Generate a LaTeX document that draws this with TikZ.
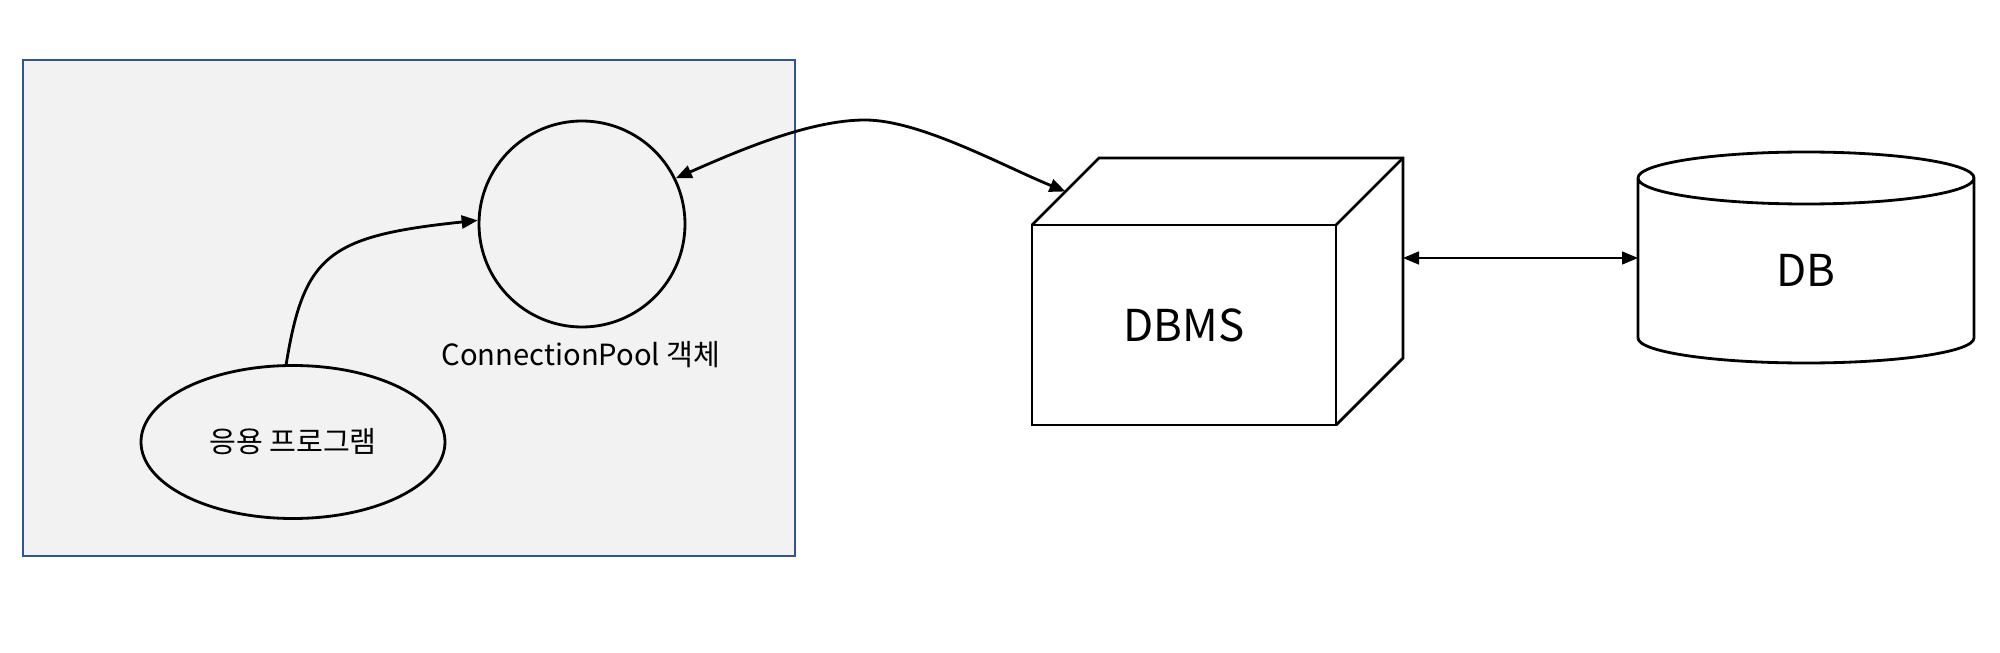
\documentclass[tikz,border=0pt]{standalone}
\usepackage{fontspec}
\setmainfont{Noto Sans CJK KR}
\usetikzlibrary{arrows.meta,shapes.geometric}
\definecolor{boxfill}{HTML}{F2F2F2}
\definecolor{boxline}{HTML}{2F5597}
\tikzset{
  tip/.tip={Triangle[length=0.16cm,width=0.13cm]},
  smalltext/.style={font=\fontsize{8.3}{10}\selectfont},
  bigtext/.style={font=\fontsize{12.5}{15}\selectfont},
}
\begin{document}
\begin{tikzpicture}[line width=0.8pt, every node/.style={inner sep=0pt}]
      \useasboundingbox (0,0) rectangle (20,6.52);
      \node[draw=boxline, fill=boxfill, line width=0.6pt,
        minimum width=7.72cm, minimum height=4.96cm] (box) at (4.09,3.44) {};
      \node[circle, draw, minimum size=2.06cm] (pool) at (5.82,4.28) {};
      \node[smalltext, anchor=base] (poollabel) at (5.81,2.87) {ConnectionPool 객체};
      \node[ellipse, draw, smalltext, minimum width=3.04cm,
        minimum height=1.53cm] (app) at (2.93,2.10) {응용 프로그램};
      \node[draw, bigtext, outer sep=0pt, minimum width=3.04cm,
        minimum height=2.00cm] (dbms) at (11.84,3.27) {DBMS};
      \draw (dbms.north west) -- coordinate[midway] (slant) ++(0.67,0.67)
        -- ++(3.04,0) coordinate (backne)
        -- coordinate[midway] (side) ++(0,-2.00) -- (dbms.south east);
      \draw (dbms.north east) -- (backne);
      \node[outer sep=0pt, minimum width=3.36cm, minimum height=1.60cm] (db) at (18.06,3.94) {};
      \draw (db.north west) -- (db.south west)
        arc[start angle=180, end angle=360, x radius=1.68cm, y radius=0.25cm]
        -- (db.north east)
        arc[start angle=0, end angle=360, x radius=1.68cm, y radius=0.26cm];
      \node[bigtext] (dblabel) at ([yshift=-0.12cm]db.center) {DB};
      \begin{scope}[-tip]
        \draw (app.95) .. controls (3.04,3.97) and (3.28,4.16) .. (pool.178);
        \draw[tip-tip] (pool.26) .. controls (7.40,5.02) and (8.10,5.32) .. (8.65,5.32)
          .. controls (9.20,5.32) and (10.03,4.86) .. (slant);
        \draw[tip-tip, line width=0.4pt] (side) -- (db.west);
      \end{scope}
    \end{tikzpicture}
\end{document}
